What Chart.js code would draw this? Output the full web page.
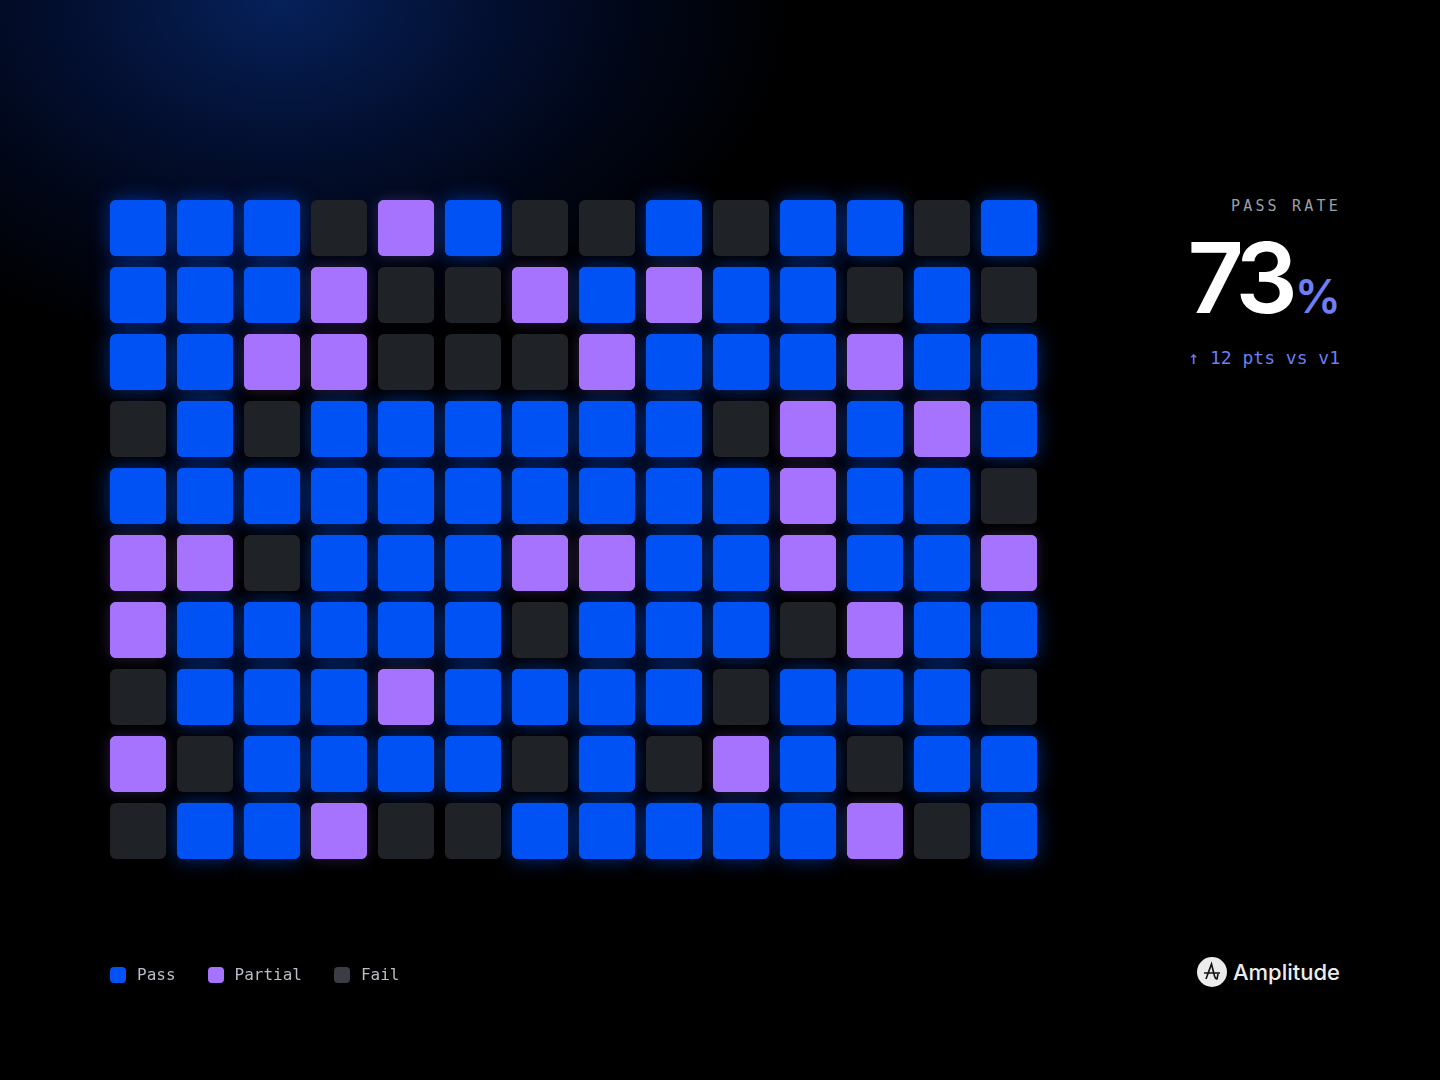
<!DOCTYPE html>
<html>
<head>
<meta charset="utf-8">
<script src="https://cdn.jsdelivr.net/npm/chart.js@4"></script>
<style>
  html, body {
    margin: 0;
    width: 1440px;
    height: 1080px;
    overflow: hidden;
    background: #000;
  }
  body {
    position: relative;
    background: radial-gradient(ellipse 520px 360px at 280px 0px, #06215a 0%, #031033 38%, #010616 70%, #000 100%), #000;
  }
  #grid {
    position: absolute;
    left: 0;
    top: 0;
  }
  .stat {
    position: absolute;
    right: 102px;
    top: 197px;
    text-align: right;
  }
  .stat .label {
    font-family: "DejaVu Sans Mono", monospace;
    font-size: 15px;
    letter-spacing: 3.2px;
    color: #9aa1aa;
    margin-right: -3px;
  }
  .stat .big {
    font-family: Inter, sans-serif;
    font-weight: 600;
    font-size: 98px;
    line-height: 1;
    color: #fff;
    letter-spacing: -7px;
    margin-top: 14px;
  }
  .stat .big span {
    font-size: 46px;
    color: #6e7ff5;
    letter-spacing: 0;
    margin-left: 4px;
    margin-right: -3px;
  }
  .stat .delta {
    font-family: "DejaVu Sans Mono", monospace;
    font-size: 18px;
    color: #6b7ff2;
    margin-top: 20px;
    margin-right: -2px;
  }
  .legend {
    position: absolute;
    left: 110px;
    top: 965px;
    display: flex;
    gap: 32px;
    font-family: "DejaVu Sans Mono", monospace;
    font-size: 16px;
    color: #b7bdc6;
  }
  .legend div { display: flex; align-items: center; }
  .legend i {
    display: inline-block;
    width: 16px;
    height: 16px;
    border-radius: 4px;
    margin-right: 11px;
  }
  .brand {
    position: absolute;
    right: 100px;
    top: 957px;
    display: flex;
    align-items: center;
    font-family: Inter, sans-serif;
    font-size: 22px;
    font-weight: 500;
    color: #ececec;
  }
  .brand svg { margin-right: 6px; }
</style>
</head>
<body>
<canvas id="grid" width="1100" height="1080"></canvas>

<div class="stat">
  <div class="label">PASS RATE</div>
  <div class="big">73<span>%</span></div>
  <div class="delta">↑ 12 pts vs v1</div>
</div>

<div class="legend" id="legend"></div>

<div class="brand">
  <svg width="30" height="30" viewBox="0 0 30 30">
    <circle cx="15" cy="15" r="15" fill="#ececec"/>
    <path d="M7 16 H23 M9 22 L14.5 7 L17 17 Q18 22 20 22 L21 17" stroke="#111" stroke-width="1.6" fill="none"/>
  </svg>
  Amplitude
</div>

<script>
// columns = test cases, rows = runs
const caseLabels = ['T1', 'T2', 'T3', 'T4', 'T5', 'T6', 'T7', 'T8', 'T9', 'T10', 'T11', 'T12', 'T13', 'T14'];
const runLabels = ['R1', 'R2', 'R3', 'R4', 'R5', 'R6', 'R7', 'R8', 'R9', 'R10'];

// 2 = pass, 1 = partial, 0 = fail
const results = [
    [2, 2, 2, 0, 1, 2, 0, 0, 2, 0, 2, 2, 0, 2],
    [2, 2, 2, 1, 0, 0, 1, 2, 1, 2, 2, 0, 2, 0],
    [2, 2, 1, 1, 0, 0, 0, 1, 2, 2, 2, 1, 2, 2],
    [0, 2, 0, 2, 2, 2, 2, 2, 2, 0, 1, 2, 1, 2],
    [2, 2, 2, 2, 2, 2, 2, 2, 2, 2, 1, 2, 2, 0],
    [1, 1, 0, 2, 2, 2, 1, 1, 2, 2, 1, 2, 2, 1],
    [1, 2, 2, 2, 2, 2, 0, 2, 2, 2, 0, 1, 2, 2],
    [0, 2, 2, 2, 1, 2, 2, 2, 2, 0, 2, 2, 2, 0],
    [1, 0, 2, 2, 2, 2, 0, 2, 0, 1, 2, 0, 2, 2],
    [0, 2, 2, 1, 0, 0, 2, 2, 2, 2, 2, 1, 0, 2],
];

const statusNames = ['Fail', 'Partial', 'Pass'];
const cellColors = ['#1f2227', '#a673ff', '#0052f5'];
const legendColors = ['#3a3d44', '#a673ff', '#0052f5'];
const glowColors = [null, 'rgba(166, 115, 255, 0.25)', 'rgba(0, 82, 245, 0.55)'];

// legend, in order Pass / Partial / Fail
const legendNode = document.getElementById('legend');
[2, 1, 0].forEach(s => {
    const item = document.createElement('div');
    item.innerHTML = '<i style="background:' + legendColors[s] + '"></i>' + statusNames[s];
    legendNode.appendChild(item);
});

// gap between cells, as a fraction of one row
const inset = 5.5 / 67;

const datasets = results.map((row, r) => ({
    label: runLabels[r],
    data: row.map(() => [r + inset, r + 1 - inset]),
    backgroundColor: row.map(s => cellColors[s]),
    borderRadius: 6,
    borderSkipped: false,
}));

// soft glow behind pass / partial cells
const glowPlugin = {
    id: 'glow',
    beforeDatasetsDraw(chart) {
        const ctx = chart.ctx;
        chart.data.datasets.forEach((ds, r) => {
            const meta = chart.getDatasetMeta(r);
            meta.data.forEach((bar, c) => {
                const s = results[r][c];
                if (!glowColors[s]) return;
                const top = Math.min(bar.y, bar.base);
                const h = Math.abs(bar.base - bar.y);
                ctx.save();
                ctx.shadowColor = glowColors[s];
                ctx.shadowBlur = s === 2 ? 20 : 14;
                ctx.fillStyle = cellColors[s];
                ctx.beginPath();
                ctx.roundRect(bar.x - bar.width / 2, top, bar.width, h, 6);
                ctx.fill();
                ctx.restore();
            });
        });
    }
};

new Chart(document.getElementById('grid'), {
    type: 'bar',
    data: {
        labels: caseLabels,
        datasets: datasets,
    },
    options: {
        responsive: false,
        animation: false,
        layout: {
            padding: { left: 104.5, right: 57.5, top: 194.5, bottom: 215.5 },
        },
        datasets: {
            bar: {
                grouped: false,
                barPercentage: 56 / 67,
                categoryPercentage: 1,
            },
        },
        scales: {
            x: { display: false, offset: true },
            y: { display: false, min: 0, max: 10, reverse: true },
        },
        plugins: {
            legend: { display: false },
            tooltip: { enabled: false },
        },
    },
    plugins: [glowPlugin],
});
</script>
</body>
</html>
